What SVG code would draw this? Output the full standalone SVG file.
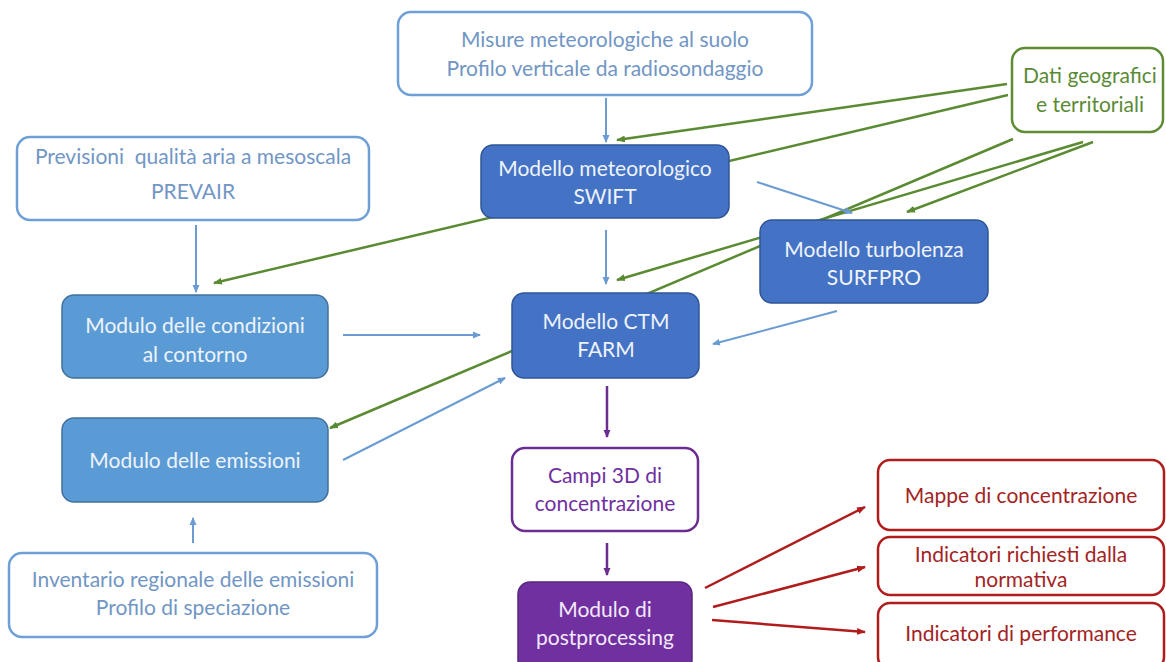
<svg xmlns="http://www.w3.org/2000/svg" width="1166" height="662" viewBox="0 0 1166 662">
<defs>
<marker id="ab" markerWidth="8" markerHeight="8" refX="7" refY="4" orient="auto" markerUnits="userSpaceOnUse"><path d="M0,0.5 L8,4 L0,7.5 Z" fill="#6A9BD2"/></marker>
<marker id="ag" markerWidth="9" markerHeight="8" refX="8" refY="4" orient="auto" markerUnits="userSpaceOnUse"><path d="M0,0.5 L9,4 L0,7.5 Z" fill="#5A8A32"/></marker>
<marker id="ap" markerWidth="8" markerHeight="8" refX="7" refY="4" orient="auto" markerUnits="userSpaceOnUse"><path d="M0,0.5 L8,4 L0,7.5 Z" fill="#6B2D8F"/></marker>
<marker id="ar" markerWidth="9" markerHeight="8" refX="8" refY="4" orient="auto" markerUnits="userSpaceOnUse"><path d="M0,0.5 L9,4 L0,7.5 Z" fill="#B01C1C"/></marker>
<style>
text{font-family:Lato,"Open Sans","Liberation Sans",sans-serif;font-size:21px;text-anchor:middle;white-space:pre}
.wb{fill:#fff;stroke:#6E9FD6;stroke-width:2.5}
.wbt{fill:#7196C4}
.db{fill:#4472C4;stroke:#2F5597;stroke-width:1.5}
.lb{fill:#5B9BD5;stroke:#41719C;stroke-width:1.5}
.wt{fill:#EEF3FB}
.gb{fill:#fff;stroke:#5E8C35;stroke-width:2.5}
.gt{fill:#5B8A36}
.pb{fill:#fff;stroke:#6B2D8F;stroke-width:2.5}
.pt{fill:#7030A0}
.pf{fill:#7030A0;stroke:#5A2580;stroke-width:1.5}
.pft{fill:#F3E8FA}
.rb{fill:#fff;stroke:#B01C1C;stroke-width:2.5}
.rt{fill:#A32424}
.cb{stroke:#6A9BD2;stroke-width:2;fill:none;marker-end:url(#ab)}
.cg{stroke:#5A8A32;stroke-width:2.5;fill:none;marker-end:url(#ag)}
.cp{stroke:#6B2D8F;stroke-width:2.5;fill:none;marker-end:url(#ap)}
.cr{stroke:#B01C1C;stroke-width:2.5;fill:none;marker-end:url(#ar)}
</style>
</defs>
<rect width="1166" height="662" fill="#fff"/>

<g id="connectors-back">
<line class="cg" x1="1008" y1="95" x2="214" y2="283"/>
<line class="cg" x1="1013" y1="139" x2="330" y2="428"/>
<line class="cg" x1="1083" y1="142" x2="617" y2="280"/>
</g>

<g id="n-misure"><rect class="wb" x="398" y="12" width="414" height="83" rx="13"/><text class="wbt" x="605" y="47">Misure meteorologiche al suolo</text><text class="wbt" x="605" y="76">Profilo verticale da radiosondaggio</text></g>
<g id="n-dati"><rect class="gb" x="1012" y="48" width="151" height="84" rx="13"/><text class="gt" x="1090" y="83">Dati geografici</text><text class="gt" x="1090" y="112">e territoriali</text></g>
<g id="n-prevair"><rect class="wb" x="17" y="137" width="352" height="83" rx="13"/><text class="wbt" x="193" y="164">Previsioni  qualità aria a mesoscala</text><text class="wbt" x="193" y="199">PREVAIR</text></g>
<g id="n-swift"><rect class="db" x="481" y="145" width="248" height="73" rx="12"/><text class="wt" x="605" y="176">Modello meteorologico</text><text class="wt" x="605" y="204">SWIFT</text></g>
<g id="n-surfpro"><rect class="db" x="760" y="220" width="228" height="83" rx="12"/><text class="wt" x="874" y="257">Modello turbolenza</text><text class="wt" x="874" y="285">SURFPRO</text></g>
<g id="n-condizioni"><rect class="lb" x="62" y="295" width="266" height="83" rx="12"/><text class="wt" x="195" y="333">Modulo delle condizioni</text><text class="wt" x="195" y="362">al contorno</text></g>
<g id="n-farm"><rect class="db" x="512" y="293" width="187" height="85" rx="12"/><text class="wt" x="606" y="329">Modello CTM</text><text class="wt" x="606" y="357">FARM</text></g>
<g id="n-emissioni"><rect class="lb" x="62" y="418" width="266" height="84" rx="12"/><text class="wt" x="195" y="468">Modulo delle emissioni</text></g>
<g id="n-campi"><rect class="pb" x="512" y="448" width="186" height="83" rx="13"/><text class="pt" x="605" y="483">Campi 3D di</text><text class="pt" x="605" y="511">concentrazione</text></g>
<g id="n-inventario"><rect class="wb" x="9" y="553" width="368" height="84" rx="13"/><text class="wbt" x="193" y="587">Inventario regionale delle emissioni</text><text class="wbt" x="193" y="615">Profilo di speciazione</text></g>
<g id="n-post"><rect class="pf" x="518" y="582" width="174" height="90" rx="12"/><text class="pft" x="605" y="617">Modulo di</text><text class="pft" x="605" y="645">postprocessing</text></g>
<g id="n-mappe"><rect class="rb" x="878" y="460" width="286" height="70" rx="12"/><text class="rt" x="1021" y="503">Mappe di concentrazione</text></g>
<g id="n-richiesti"><rect class="rb" x="878" y="537" width="286" height="58" rx="12"/><text class="rt" x="1021" y="562">Indicatori richiesti dalla</text><text class="rt" x="1021" y="587">normativa</text></g>
<g id="n-performance"><rect class="rb" x="878" y="603" width="286" height="66" rx="12"/><text class="rt" x="1021" y="641">Indicatori di performance</text></g>

<g id="connectors">
<line class="cb" x1="606" y1="98" x2="606" y2="142"/>
<line class="cb" x1="606" y1="230" x2="606" y2="284"/>
<line class="cb" x1="757" y1="182" x2="852" y2="213"/>
<line class="cb" x1="837" y1="311" x2="713" y2="344"/>
<line class="cb" x1="196" y1="225" x2="196" y2="292"/>
<line class="cb" x1="343" y1="335" x2="480" y2="335"/>
<line class="cb" x1="343" y1="460" x2="505" y2="378"/>
<line class="cb" x1="193" y1="543" x2="193" y2="518"/>
<line class="cg" x1="1007" y1="84" x2="617" y2="140"/>
<line class="cg" x1="1093" y1="142" x2="907" y2="212"/>
<line class="cp" x1="607" y1="386" x2="607" y2="437"/>
<line class="cp" x1="607" y1="543" x2="607" y2="575"/>
<line class="cr" x1="705" y1="588" x2="865" y2="507"/>
<line class="cr" x1="713" y1="607" x2="865" y2="567"/>
<line class="cr" x1="712" y1="620" x2="865" y2="632"/>
</g>
</svg>
